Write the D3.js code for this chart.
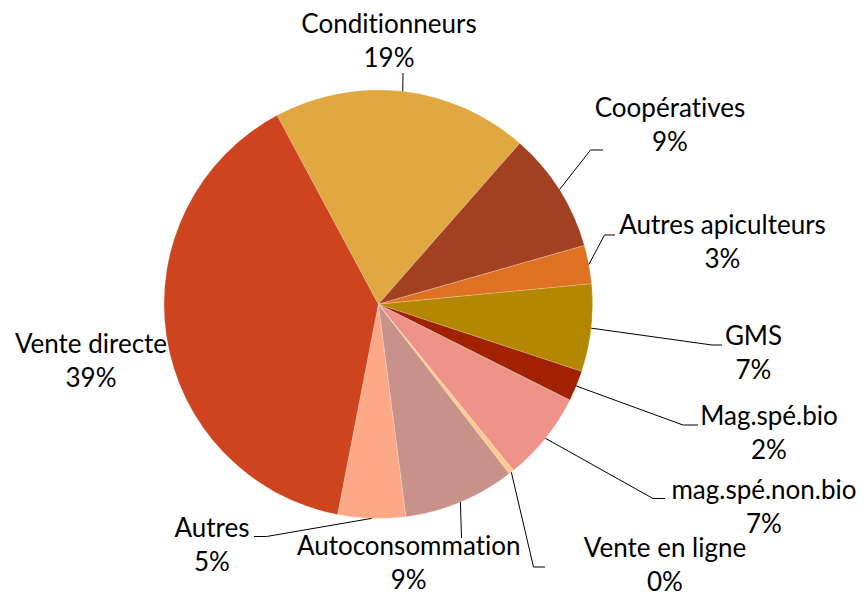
<!DOCTYPE html>
<html>
<head>
<meta charset="utf-8">
<script src="https://cdn.jsdelivr.net/npm/d3@7"></script>
<style>
  html, body { margin: 0; padding: 0; background: #fff; }
  svg { display: block; }
  text { font-variant-ligatures: none; }
</style>
</head>
<body>
<script>
// data (share of sales, %)
const categories = ["Conditionneurs", "Coopératives", "Autres apiculteurs", "GMS", "Mag.spé.bio",
  "mag.spé.non.bio", "Vente en ligne", "Autoconsommation", "Autres", "Vente directe"];
const values = [19.3, 9.1, 2.9, 6.6, 2.3, 6.75, 0.4, 8.4, 5.1, 39.1];
const pctLabels = ["19%", "9%", "3%", "7%", "2%", "7%", "0%", "9%", "5%", "39%"];
const colors = ["#E1A741", "#A24022", "#E07323", "#B38800", "#A12200",
  "#EE9389", "#FFCB8A", "#C8918A", "#FDA988", "#CD441F"];

// label placement (Excel hand placed labels): text centre x, first baseline, leader elbow
const labelPos = [
  {x: 389, y: 32.7, elbow: [403, 73], end: 403},
  {x: 670, y: 116.5, elbow: [590.5, 150], end: 603},
  {x: 722.5, y: 234, elbow: [604.5, 235], end: 615},
  {x: 753.5, y: 345, elbow: [712, 345], end: 722},
  {x: 769, y: 425, elbow: [683, 425], end: 698},
  {x: 764, y: 498.5, elbow: [653, 498.5], end: 665},
  {x: 665, y: 557, elbow: [533.5, 567], end: 545},
  {x: 408.7, y: 555, elbow: [461.5, 538], end: 461.5},
  {x: 212, y: 537, elbow: [266.5, 536.5], end: 254},
  {x: 91, y: 353.3, elbow: null, end: null}
];

const width = 864, height = 592;
const cx = 378.3, cy = 304.2, radius = 214.3;
const startDeg = -28.2;
const lineGap = 34;

const svg = d3.select("body").append("svg")
    .attr("width", width)
    .attr("height", height)
    .attr("font-family", "Lato, 'Open Sans', sans-serif")
    .attr("font-size", 26);

const pie = d3.pie()
    .sort(null)
    .value(d => d.value)
    .startAngle(startDeg * Math.PI / 180)
    .endAngle((startDeg + 360) * Math.PI / 180);

const arcs = pie(categories.map((c, i) => ({name: c, value: values[i], pct: pctLabels[i], pos: labelPos[i]})));

const arc = d3.arc().innerRadius(0).outerRadius(radius);

const g = svg.append("g").attr("transform", `translate(${cx},${cy})`);

g.selectAll("path")
  .data(arcs)
  .join("path")
    .attr("fill", (d, i) => colors[i])
    .attr("stroke", "#fff")
    .attr("stroke-opacity", 0.35)
    .attr("stroke-width", 0.6)
    .attr("d", arc);

// leader lines from the middle of each slice rim
function rimPoint(d) {
  const a = (d.startAngle + d.endAngle) / 2;
  return [cx + radius * Math.sin(a), cy - radius * Math.cos(a)];
}

svg.append("g")
  .selectAll("polyline")
  .data(arcs.filter(d => d.data.pos.elbow))
  .join("polyline")
    .attr("fill", "none")
    .attr("stroke", "#000")
    .attr("stroke-width", 1)
    .attr("points", d => {
      const p = rimPoint(d), e = d.data.pos.elbow;
      return [p, e, [d.data.pos.end, e[1]]].map(q => q.join(",")).join(" ");
    });

const labels = svg.append("g")
    .attr("fill", "#000")
    .attr("text-anchor", "middle")
  .selectAll("text")
  .data(arcs)
  .join("text")
    .attr("x", d => d.data.pos.x)
    .attr("y", d => d.data.pos.y);

labels.append("tspan")
    .attr("x", d => d.data.pos.x)
    .text(d => d.data.name);

labels.append("tspan")
    .attr("x", d => d.data.pos.x)
    .attr("dy", lineGap)
    .text(d => d.data.pct);
</script>
</body>
</html>
